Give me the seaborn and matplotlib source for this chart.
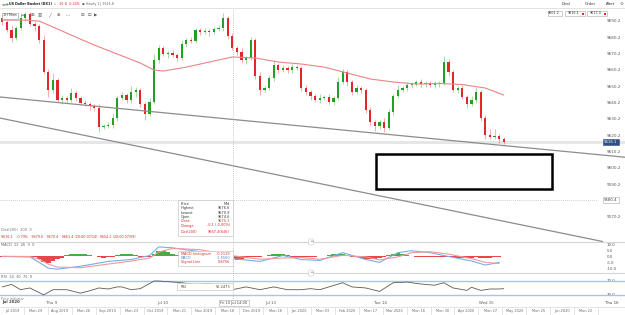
import matplotlib
matplotlib.use("Agg")
import numpy as np
import pandas as pd
import matplotlib.pyplot as plt
import seaborn as sns
from matplotlib.patches import Rectangle
from matplotlib.lines import Line2D

# hourly closes, US Dollar Basket
closes = [9689.4, 9684.5, 9679.6, 9685.7, 9691.9, 9694.3, 9688.2, 9687.0, 9678.4, 9658.8,
          9647.8, 9653.9, 9641.6, 9642.9, 9641.6, 9645.9, 9642.9, 9639.8, 9639.2, 9638.0,
          9636.7, 9625.1, 9625.7, 9626.3, 9630.6, 9642.9, 9644.7, 9641.6, 9646.5, 9647.8,
          9639.2, 9633.1, 9640.4, 9666.1, 9673.5, 9669.8, 9670.4, 9669.2, 9667.4, 9675.9,
          9678.4, 9677.8, 9684.5, 9683.3, 9683.9, 9683.3, 9685.1, 9685.7, 9691.9, 9680.8,
          9673.5, 9671.0, 9666.1, 9667.4, 9678.4, 9656.3, 9647.8, 9649.0, 9655.1, 9663.1,
          9660.0, 9661.2, 9660.0, 9661.8, 9661.2, 9649.0, 9646.5, 9644.1, 9641.6, 9642.9,
          9643.5, 9640.4, 9642.9, 9652.7, 9658.8, 9652.7, 9646.5, 9649.0, 9647.8, 9635.5,
          9628.2, 9625.7, 9628.2, 9624.5, 9634.3, 9644.1, 9647.8, 9649.0, 9650.8, 9651.4,
          9652.7, 9651.4, 9652.1, 9650.8, 9651.4, 9652.1, 9664.9, 9658.8, 9647.8, 9649.0,
          9643.5, 9639.2, 9641.6, 9646.5, 9630.6, 9620.2, 9619.0, 9619.6, 9617.8, 9615.9]
first_open = 9692.0
wick_up = [1.5, 2.0, 3.0, 1.0, 2.5, 1.5, 1.0, 2.0, 1.5, 3.0, 2.0, 4.0, 1.5, 2.0, 1.0, 3.0, 1.5, 1.0, 2.0, 1.5,
           1.0, 2.5, 1.5, 2.0, 3.0, 1.5, 2.0, 1.0, 3.5, 2.0, 1.5, 1.0, 2.5, 4.0, 2.0, 1.5, 1.0, 2.0, 1.5, 2.5,
           1.0, 2.0, 1.5, 1.0, 2.0, 1.5, 1.0, 2.0, 3.0, 1.5, 2.0, 1.0, 2.5, 1.5, 2.0, 1.0, 2.5, 1.5, 2.0, 3.0,
           1.0, 2.0, 1.5, 2.0, 1.0, 1.5, 2.0, 1.0, 1.5, 2.5, 1.0, 2.0, 1.5, 3.0, 2.0, 1.0, 1.5, 2.0, 1.0, 1.5,
           2.0, 1.0, 1.5, 2.5, 2.0, 1.5, 3.0, 1.0, 2.0, 1.5, 1.0, 2.0, 1.5, 1.0, 2.0, 1.5, 4.0, 2.0, 1.0, 1.5,
           2.0, 1.0, 2.5, 3.0, 1.5, 2.0, 3.5, 4.0, 1.5, 1.0]
wick_dn = [2.0, 1.0, 2.5, 1.5, 1.0, 2.0, 1.5, 3.0, 2.0, 1.5, 4.0, 2.0, 1.0, 2.5, 1.5, 1.0, 2.0, 1.5, 1.0, 2.5,
           2.0, 3.0, 1.5, 1.0, 2.0, 1.5, 1.0, 2.0, 1.5, 3.0, 2.0, 3.5, 1.5, 1.0, 2.0, 1.5, 2.5, 1.0, 2.0, 1.5,
           2.0, 1.0, 1.5, 2.0, 1.0, 2.5, 1.5, 1.0, 2.0, 1.5, 1.0, 2.0, 1.5, 2.5, 1.0, 2.0, 3.0, 1.5, 1.0, 2.0,
           1.5, 1.0, 2.0, 1.5, 1.0, 2.0, 1.5, 2.5, 1.0, 2.0, 1.5, 1.0, 2.0, 1.5, 1.0, 2.5, 1.5, 1.0, 2.0, 1.5,
           2.0, 3.0, 1.5, 2.5, 1.0, 2.0, 1.5, 1.0, 2.0, 1.5, 1.0, 2.0, 1.5, 1.0, 1.5, 2.0, 1.0, 2.5, 1.5, 2.0,
           1.5, 2.5, 1.0, 2.0, 1.5, 2.5, 1.0, 1.5, 2.5, 1.0]

# 200 period moving average
ma_idx = [0, 5, 8, 10, 15, 20, 25, 30, 33, 35, 40, 45, 50, 55, 60, 65, 70, 75, 80, 85, 90, 95, 100, 105, 109]
ma_val = [9690.6, 9690.6, 9690.0, 9687.6, 9681.4, 9675.3, 9669.8, 9664.3, 9660.0, 9659.4, 9661.8, 9664.9,
          9668.0, 9667.4, 9664.9, 9663.7, 9661.8, 9658.2, 9654.5, 9652.7, 9651.4, 9651.8, 9651.1, 9649.0, 9644.7]

# drawn objects
trend_hi_x, trend_hi_y = [-0.5, 135.4], [9643.5, 9606.6]
trend_lo_x, trend_lo_y = [-0.5, 130.5], [9630.6, 9555.0]
zone_x, zone_y = [81.2, 119.5], [9587.1, 9608.6]
last_price = 9616.1
cross_idx, cross_price = 50.1, 9580.4

# 9580.2 sits under the crosshair label, so it is not shown
price_ticks = [9690.2, 9680.2, 9670.2, 9660.2, 9650.2, 9640.2, 9630.2, 9620.2, 9610.2, 9600.2,
               9590.2, 9570.2]

# MACD 12 26 9
macd_idx = [0, 6, 8, 10, 12, 17, 23, 28, 32, 34, 37, 43, 50, 56, 61, 65, 69, 74, 79, 82, 86, 89, 93, 97, 102, 105, 108]
macd_val = [-0.2, -0.6, -5.1, -9.9, -10.7, -8.3, -4.3, -2.7, 0.6, 7.8, 7.0, 3.8, -1.9, -4.3, 0.6, -2.7, -3.5,
            3.0, -2.7, -5.1, 3.0, 4.6, 3.0, -0.2, -3.9, -7.3, -5.1]
signal_val = [0.0, -0.2, -2.5, -6.5, -9.0, -9.5, -6.5, -4.0, -1.5, 3.5, 6.5, 5.5, 0.5, -2.5, -1.5, -1.0, -2.5,
              0.8, -0.5, -3.0, -0.5, 3.0, 3.8, 1.8, -2.0, -5.0, -6.0]
hist_val = [-0.5, -0.8, -0.6, -0.3, -0.1, -0.3, -0.6, -1.0, -2.5, -4.5, -5.3, -4.0, -2.5, -1.2, 0.8, 1.5, 2.0,
            2.2, 1.8, 1.2, 0.6, -0.8, -1.2, -0.6, -0.2, 0.8, 1.6, 2.2, 1.8, 1.0, -0.6, -0.9, -0.4, 2.0, 4.2,
            4.6, 3.5, 2.0, 1.0, 0.2, -0.5, -0.8, -0.6, -0.2, 0.3, 0.5, 0.2, -0.3, -0.8, -1.5, -2.5, -2.8,
            -2.2, -1.5, -0.8, -0.5, -0.3, 0.2, 1.2, 2.0, 2.2, 1.6, 0.8, -0.4, -0.8, -1.0, -0.9, -0.6, -0.3,
            -0.1, 0.5, 1.4, 2.0, 2.2, 1.5, 0.6, -0.3, -1.0, -1.8, -2.4, -2.6, -2.0, -1.2, -0.5, 0.8, 1.8,
            2.5, 2.2, 1.2, 0.3, -0.3, -0.6, -0.8, -0.9, -0.8, -0.6, -0.4, -0.3, -0.6, -1.2, -1.6, -1.8,
            -1.5, -1.0, -1.2, -1.5, -1.3, -0.9, -0.4, 0.5]
macd_ticks = [10, 5, 0, -5, -10]
macd_labels = ["10.0", "5.0", "0.0", "-5.0", "-10.0"]

# RSI 14
rsi_idx = [0, 2, 4, 6, 9, 11, 14, 17, 19, 21, 23, 25, 26, 28, 30, 33, 34, 37, 39, 42, 45, 48, 50, 53, 56,
           59, 62, 65, 67, 69, 71, 74, 76, 79, 82, 85, 88, 90, 92, 94, 96, 98, 101, 102, 104, 106, 108, 109]
rsi_val = [53, 60, 45, 50, 30, 45, 45, 35, 42, 50, 47, 53, 53, 45, 48, 70, 70, 67, 65, 60, 62, 55, 45, 53, 45,
           53, 45, 45, 48, 45, 53, 65, 53, 50, 40, 65, 67, 63, 60, 58, 65, 50, 43, 52, 43, 47, 47, 48]
rsi_levels = [70, 30]

day_labels = ["Thu 9", "Jul 10", "Jul 13", "Tue 14", "Wed 15"]
day_idx = [10.8, 34.9, 58.4, 82.3, 105.2]
nav_labels = ["Jul 2019", "Mon 29", "Aug 2019", "Mon 26", "Sep 2019", "Mon 23", "Oct 2019", "Mon 21",
              "Nov 2019", "Mon 18", "Dec 2019", "Mon 16", "Jan 2020", "Mon 03", "Feb 2020", "Mon 17",
              "Mar 2020", "Mon 16", "Mon 30", "Apr 2020", "Mon 27", "May 2020", "Mon 25", "Jun 2020", "Mon 22"]

sns.set_theme(style="white")
plt.rcParams['font.family'] = ['DejaVu Sans']

W, H = 625, 315
GREEN, RED = "#22a022", "#e3262a"
fig = plt.figure(figsize=(W / 100, H / 100), dpi=100)


def box(l, t, r, b):
    return [l / W, 1 - b / H, (r - l) / W, (b - t) / H]


def ftext(x, y, s, **kw):
    kw.setdefault("fontsize", 3.0)
    kw.setdefault("color", "#444444")
    kw.setdefault("va", "center")
    return fig.text(x / W, 1 - y / H, s, **kw)


def fline(xs, ys, **kw):
    fig.add_artist(Line2D([x / W for x in xs], [1 - y / H for y in ys], transform=fig.transFigure, **kw))


n = len(closes)
df = pd.DataFrame({"i": np.arange(n), "close": closes})
df["open"] = [first_open] + closes[:-1]
df["high"] = df[["open", "close"]].max(axis=1) + wick_up
df["low"] = df[["open", "close"]].min(axis=1) - wick_dn
df["col"] = np.where(df["close"] >= df["open"], GREEN, RED)

# ---- price panel
ax = fig.add_axes(box(0, 8, 598, 242))
ax.set_xlim(-0.5, 129.5)
ax.set_ylim(9554.7, 9698.0)
ax.axhline(last_price, xmax=W / 598, color="#e6e6e6", lw=2.2, zorder=0, clip_on=False)
ax.axhline(cross_price, color="#bdbdbd", lw=0.6, ls=(0, (1, 1.5)), zorder=0)
ax.vlines(df["i"], df["low"], df["high"], colors=df["col"], lw=0.6, alpha=0.45)
body = (df["close"] - df["open"]).where((df["close"] - df["open"]).abs() > 0.4, 0.4)
ax.bar(df["i"], body, bottom=df["open"], width=0.5, color=df["col"], linewidth=0)
sns.lineplot(x=ma_idx, y=ma_val, ax=ax, color="#e98585", lw=0.8)
ax.plot(trend_hi_x, trend_hi_y, color="#8c8c8c", lw=0.9, clip_on=False)
ax.plot(trend_lo_x, trend_lo_y, color="#8c8c8c", lw=0.9, clip_on=False)
ax.add_patch(Rectangle((zone_x[0], zone_y[0]), zone_x[1] - zone_x[0], zone_y[1] - zone_y[0],
                       fill=False, ec="black", lw=1.8, zorder=5))
ax.yaxis.tick_right()
ax.set_yticks(price_ticks)
ax.set_yticklabels([f"{v:.1f}" for v in price_ticks])
ax.tick_params(axis="y", length=0, pad=6, labelsize=3.0, labelcolor="#555555")
ax.set_xticks([])
ax.set(xlabel="", ylabel="")
for s in ax.spines.values():
    s.set_visible(False)

# ---- MACD panel
axm = fig.add_axes(box(0, 242, 598, 273))
axm.set_xlim(-0.5, 129.5)
axm.set_ylim(-13.9, 11.85)
axm.bar(np.arange(n), hist_val, width=1.0, linewidth=0,
        color=[GREEN if v >= 0 else RED for v in hist_val], alpha=0.85)
sns.lineplot(x=macd_idx, y=macd_val, ax=axm, color="#79aee3", lw=0.8)
sns.lineplot(x=macd_idx, y=signal_val, ax=axm, color="#f29a9a", lw=0.8)
axm.yaxis.tick_right()
axm.set_yticks(macd_ticks)
axm.set_yticklabels(macd_labels)
axm.tick_params(axis="y", length=0, pad=6, labelsize=2.8, labelcolor="#555555")
axm.set_xticks([])
for s in axm.spines.values():
    s.set_visible(False)

# ---- RSI panel
axr = fig.add_axes(box(0, 273, 598, 297))
axr.set_xlim(-0.5, 129.5)
axr.set_ylim(24, 93)
for lv in rsi_levels:
    axr.axhline(lv, xmax=W / 598, color="#a9c4e8", lw=1.0, clip_on=False)
sns.lineplot(x=rsi_idx, y=rsi_val, ax=axr, color="#5a5a5a", lw=0.6)
axr.yaxis.tick_right()
axr.set_yticks(rsi_levels)
axr.set_yticklabels(["70.0", "30.0"])
axr.tick_params(axis="y", length=0, pad=6, labelsize=2.8, labelcolor="#555555")
axr.set_xticks([])
for s in axr.spines.values():
    s.set_visible(False)

# ---- date axis
axd = fig.add_axes(box(0, 297, 598, 307))
axd.set_xlim(-0.5, 129.5)
axd.set_yticks([])
axd.set_xticks(day_idx)
axd.set_xticklabels(day_labels)
axd.tick_params(axis="x", length=0, pad=-4, labelsize=2.8, labelcolor="#555555")
axd.patch.set_alpha(0)
for s in axd.spines.values():
    s.set_visible(False)
ftext(2, 302.5, "Jul 2020", fontweight="bold", fontsize=2.8)
ftext(612, 302.5, "Thu 16", fontsize=2.8, ha="center")

# navigator strip
fline([0, 625], [306.5, 306.5], color="#d9d9d9", lw=0.5)
nav_w = 598 / len(nav_labels)
for k, lab in enumerate(nav_labels):
    ftext(nav_w * (k + 0.5), 311, lab, fontsize=2.5, ha="center", color="#666666")
    fline([nav_w * (k + 1)] * 2, [307, 315], color="#d0d0d0", lw=0.4)

# ---- separators and handles
for yy in (242, 273):
    fline([0, 625], [yy, yy], color="#d6d6d6", lw=0.8)
    ftext(311, yy, "═", fontsize=3, ha="center", color="#999999",
          bbox=dict(boxstyle="round,pad=0.25", fc="white", ec="#c8c8c8", lw=0.4))

# crosshair
cx = 2.3 + 4.6 * cross_idx
fline([cx, cx], [10, 306], color="#b5b5b5", lw=0.6, ls=(0, (1, 1.5)))
ftext(234, 303, "Fri 10 Jul 14:00", fontsize=2.6, ha="center",
      bbox=dict(boxstyle="square,pad=0.3", fc="white", ec="#aaaaaa", lw=0.4))
ftext(611, 200, f"{cross_price:.1f}", fontsize=2.8, ha="center",
      bbox=dict(boxstyle="square,pad=0.3", fc="white", ec="#aaaaaa", lw=0.4))
ftext(611, 141.7, f"{last_price:.1f}", fontsize=2.8, ha="center", color="white",
      bbox=dict(boxstyle="square,pad=0.3", fc="#2d4f82", ec="#2d4f82", lw=0.4))

# info tooltips
fig.add_artist(Rectangle((178 / W, 1 - 236 / H), 55 / W, 36 / H, transform=fig.transFigure,
                         fc="white", ec="#c8c8c8", lw=0.5, zorder=10))
rows = [("Price", "Mid", "#333333"), ("Highest", "9676.6", "#333333"), ("Lowest", "9670.9", "#333333"),
        ("Open", "9674.6", "#333333"), ("Close", "9675.1", RED), ("Change", "-0.1 (-0.00%)", RED),
        ("Dist(200)", "9667.4(646)", RED)]
for k, (a, b, c) in enumerate(rows):
    yy = 204 + 4.3 * k + (2 if k == 6 else 0)
    ftext(181, yy, a, color=c, fontsize=2.5, zorder=11)
    ftext(230, yy, b, color=c, fontsize=2.5, ha="right", zorder=11)
fig.add_artist(Rectangle((178 / W, 1 - 266 / H), 55 / W, 15 / H, transform=fig.transFigure,
                         fc="white", ec="#c8c8c8", lw=0.5, zorder=10))
for k, (a, b, c) in enumerate([("MACD histogram", "-0.2119", RED), ("MACD", "-1.5560", "#4a86c8"),
                               ("Signal Line", "0.8756", RED)]):
    ftext(181, 254 + 4.2 * k, a, color=c, fontsize=2.5, zorder=11)
    ftext(230, 254 + 4.2 * k, b, color=c, fontsize=2.5, ha="right", zorder=11)
fig.add_artist(Rectangle((177 / W, 1 - 290 / H), 56 / W, 7 / H, transform=fig.transFigure,
                         fc="white", ec="#c8c8c8", lw=0.5, zorder=10))
ftext(181, 286.5, "RSI", fontsize=2.5, zorder=11)
ftext(230, 286.5, "56.2473", fontsize=2.5, ha="right", zorder=11)

# panel captions
ftext(1, 230, "Dist(200)  200  X", fontsize=2.6, color="#777777")
ftext(1, 237, "9616.1   -0.79%   9679.6   9670.4   9661.4 (20:00 07/14)  9654.2 (20:00 07/09)",
      fontsize=2.4, color=RED)
ftext(1, 245, "MACD  12  26  9  0", fontsize=2.6, color="#666666")
ftext(1, 277, "RSI  14  30  70  0", fontsize=2.6, color="#666666")
ftext(1, 299.5, "Price indicator", fontsize=2.3, color="#888888")

# header bar
fline([0, 625], [8, 8], color="#dddddd", lw=0.6)
ftext(1, 4, "≡", fontsize=3.2, color="#777777")
ftext(5, 4, "+", fontsize=3.6, color=GREEN, fontweight="bold")
ftext(9, 4, "US Dollar Basket (DX1)", fontsize=2.4, color="#222222", fontweight="bold")
ftext(53.5, 4, "∨", fontsize=2.2, color="#777777")
ftext(58.5, 4, "-16.8", fontsize=2.4, color=RED)
ftext(69, 4, "-0.24%", fontsize=2.4, color=RED)
ftext(82, 4, "● Hourly 1 | 9616.8", fontsize=2.3, color="#666666")
for x, s in [(566, "Deal"), (590, "Order"), (611, "Alert")]:
    ftext(x, 4, s, fontsize=2.8, ha="center", color="#333333")
ftext(622, 4, "⚙", fontsize=3.2, ha="center", color="#777777")

# toolbar
ftext(3, 15.5, "1H Mins", fontsize=2.4, color="#333333",
      bbox=dict(boxstyle="square,pad=0.3", fc="white", ec="#999999", lw=0.4))
for x, s in [(23, "▭"), (32, "⊞"), (40, "▥"), (50, "╱"), (58, "⊕"), (68, "⋯"), (82, "⊟"), (89, "⊡"), (96, "▶")]:
    ftext(x, 15.5, s, fontsize=3.2, ha="center", color="#555555")
for x0, x1, s in [(548, 562, "9601.2"), (565, 585, "9616.1"), (587, 607, "9617.0")]:
    fig.add_artist(Rectangle((x0 / W, 1 - 16 / H), (x1 - x0) / W, 5 / H, transform=fig.transFigure,
                             fc="white", ec="#aaaaaa", lw=0.4, zorder=10))
    ftext((x0 + x1) / 2 - 1, 13.5, s, fontsize=2.4, ha="center", color="#333333", zorder=11)
    if x0 > 560:
        fig.add_artist(Rectangle(((x1 - 3) / W, 1 - 14.5 / H), 1.5 / W, 2 / H, transform=fig.transFigure,
                                 fc=RED, ec="none", zorder=11))

fig.savefig("out.png", dpi=100)
